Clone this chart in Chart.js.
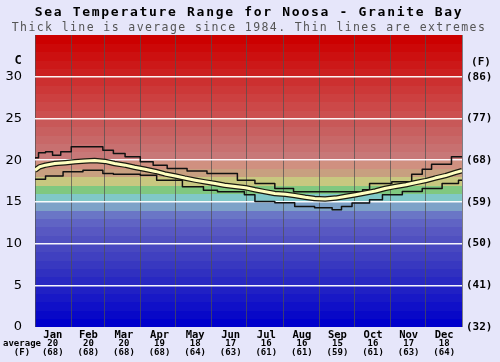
<!DOCTYPE html>
<html>
<head>
<meta charset="utf-8">
<script src="https://cdn.jsdelivr.net/npm/chart.js@4.4.0/dist/chart.umd.min.js"></script>
<style>
  html, body { margin: 0; padding: 0; background: #e6e6fa; }
  #wrap { width: 500px; height: 362px; position: relative; }
</style>
</head>
<body>
<div id="wrap"><canvas id="seachart"></canvas></div>
<script>
const months = ['Jan', 'Feb', 'Mar', 'Apr', 'May', 'Jun', 'Jul', 'Aug', 'Sep', 'Oct', 'Nov', 'Dec'];
const monthAvgC = [20, 20, 20, 19, 18, 17, 16, 16, 15, 16, 17, 18];
const monthAvgF = [68, 68, 68, 68, 64, 63, 61, 61, 59, 61, 63, 64];
const monthStartDays = [0, 31, 59, 90, 120, 151, 181, 212, 243, 273, 304, 334, 365];
const celsiusTicks = [0, 5, 10, 15, 20, 25, 30];

// thick line: average since 1984 (day of year -> C)
const avgDays = [0, 4, 9, 17, 26, 34, 43, 51, 60, 68, 77, 85, 94, 103, 111, 120, 128, 137, 145, 154, 162, 171, 180, 188,
  197, 205, 214, 222, 231, 239, 248, 257, 265, 274, 282, 291, 299, 308, 317, 325, 334, 342, 351, 359, 365];
const avgTemps = [18.8, 19.2, 19.4, 19.6, 19.7, 19.8, 19.9, 19.95, 19.85, 19.6, 19.4, 19.15, 18.9, 18.65, 18.35, 18.1,
  17.85, 17.6, 17.4, 17.2, 17.0, 16.85, 16.7, 16.45, 16.2, 16.0, 15.9, 15.75, 15.55, 15.4, 15.35, 15.45, 15.65, 15.85,
  16.05, 16.3, 16.6, 16.85, 17.05, 17.3, 17.55, 17.85, 18.15, 18.5, 18.75];

// thin lines: extremes (each value holds until the next day listed)
const maxDays = [0, 3, 9, 15, 22, 31, 58, 67, 77, 90, 101, 113, 130, 147, 173, 188, 205, 221, 280, 286, 305, 322, 331, 339, 356, 365];
const maxTemps = [20.3, 20.9, 21.0, 20.6, 21.0, 21.6, 21.2, 20.8, 20.4, 19.8, 19.4, 19.0, 18.7, 18.4, 17.6, 17.2, 16.6,
  16.2, 16.45, 17.2, 17.4, 18.3, 18.9, 19.5, 20.4, 20.4];
const minDays = [0, 9, 24, 41, 58, 67, 90, 104, 126, 144, 156, 179, 188, 205, 222, 239, 254, 262, 271, 286, 297, 314, 331, 348, 362, 365];
const minTemps = [17.7, 18.1, 18.6, 18.8, 18.4, 18.3, 18.2, 17.6, 16.8, 16.4, 16.2, 15.85, 15.05, 14.9, 14.45, 14.3,
  14.05, 14.45, 14.85, 15.25, 15.85, 16.25, 16.6, 17.2, 17.6, 17.6];

// one colour per degree band, 0..35 C
const bandColours = ['#0000cc', '#0808c8', '#1010c8', '#1818c6', '#2020c4', '#2828c2', '#3030c0', '#3838c0', '#4040c0',
  '#4848c0', '#5050c0', '#5858c2', '#6064c4', '#6a76c6', '#7ea2c8', '#80c8c8', '#80c880', '#c8c880', '#c8a080',
  '#d09080', '#c87878', '#c87070', '#c86868', '#c86060', '#c85858', '#cc5050', '#cc4848', '#cc4040', '#cc3838',
  '#cc3030', '#cc2020', '#cc1818', '#cc1010', '#cc0808', '#cc0000'];

const toPoints = (days, temps) => days.map((d, i) => ({ x: d, y: temps[i] }));
const mono = '"DejaVu Sans Mono", monospace';

const bandsPlugin = {
  id: 'bands',
  beforeDraw(chart) {
    const { ctx, chartArea: a, scales: { y } } = chart;
    ctx.save();
    bandColours.forEach((c, d) => {
      const top = Math.floor(y.getPixelForValue(d + 1));
      const bot = Math.ceil(y.getPixelForValue(d));
      ctx.fillStyle = c;
      ctx.fillRect(a.left, top, a.right - a.left, bot - top);
    });
    ctx.restore();
  }
};

const textPlugin = {
  id: 'texts',
  afterDraw(chart) {
    const { ctx, scales: { xm } } = chart;
    ctx.save();
    ctx.textAlign = 'center';
    ctx.textBaseline = 'middle';
    ctx.fillStyle = '#000';
    ctx.font = 'bold 13px ' + mono;
    ctx.letterSpacing = '1.7px';
    ctx.fillText('Sea Temperature Range for Noosa - Granite Bay', 249, 13);
    ctx.fillStyle = '#555';
    ctx.font = '11.5px ' + mono;
    ctx.letterSpacing = '1.4px';
    ctx.fillText('Thick line is average since 1984. Thin lines are extremes', 249, 28);
    ctx.letterSpacing = '0px';

    ctx.fillStyle = '#000';
    ctx.font = 'bold 12px ' + mono;
    ctx.fillText('C', 18, 61);
    ctx.font = 'bold 11px ' + mono;
    ctx.fillText('(F)', 481, 62);

    ctx.font = 'bold 9px ' + mono;
    ctx.fillText('average', 22, 343.5);
    ctx.fillText('(F)', 22, 352.5);
    months.forEach((m, i) => {
      const x = xm.getPixelForValue(i);
      ctx.fillText(String(monthAvgC[i]), x, 343.5);
      ctx.fillText('(' + monthAvgF[i] + ')', x, 352.5);
    });
    ctx.restore();
  }
};

const seaChart = new Chart(document.getElementById('seachart').getContext('2d'), {
  type: 'line',
  data: {
    labels: months,
    datasets: [
      { data: toPoints(avgDays, avgTemps), borderColor: '#ffffc0', borderWidth: 3, xAxisID: 'x', yAxisID: 'y' },
      { data: toPoints(avgDays, avgTemps), borderColor: '#1a1a10', borderWidth: 5.5, xAxisID: 'x', yAxisID: 'y' },
      { data: toPoints(maxDays, maxTemps), borderColor: '#111', borderWidth: 1.5, stepped: true, xAxisID: 'x', yAxisID: 'y' },
      { data: toPoints(minDays, minTemps), borderColor: '#111', borderWidth: 1.5, stepped: true, xAxisID: 'x', yAxisID: 'y' }
    ]
  },
  options: {
    responsive: true,
    maintainAspectRatio: false,
    animation: false,
    elements: { point: { radius: 0 }, line: { tension: 0, borderJoinStyle: 'round' } },
    layout: { padding: { top: 35, left: 0, right: 0, bottom: 0 } },
    plugins: { legend: { display: false }, tooltip: { enabled: false }, title: { display: false } },
    scales: {
      x: {
        type: 'linear', min: 0, max: 365, position: 'bottom',
        afterBuildTicks: s => { s.ticks = monthStartDays.map(v => ({ value: v })); },
        afterFit: s => { s.height = 0; },
        ticks: { display: false },
        grid: { color: 'rgba(80,80,80,0.7)', lineWidth: 1, drawTicks: false },
        border: { display: false }
      },
      xm: {
        type: 'category', labels: months, offset: true, position: 'bottom',
        afterFit: s => { s.height = 35; },
        grid: { display: false, drawTicks: false },
        border: { display: false },
        ticks: { color: '#000', font: { family: mono, size: 10.5, weight: 'bold' }, padding: 2, maxRotation: 0, autoSkip: false }
      },
      y: {
        type: 'linear', min: 0, max: 35, position: 'left',
        afterBuildTicks: s => { s.ticks = celsiusTicks.map(v => ({ value: v })); },
        afterFit: s => { s.width = 35; },
        ticks: { color: '#000', font: { family: '"DejaVu Sans", sans-serif', size: 13 }, padding: 13 },
        grid: { color: c => (c.tick && c.tick.value === 0 ? 'rgba(0,0,0,0)' : 'rgba(255,255,255,0.95)'), lineWidth: 1.5, drawTicks: false },
        border: { display: false }
      },
      y2: {
        type: 'linear', min: 0, max: 35, position: 'right',
        afterBuildTicks: s => { s.ticks = celsiusTicks.map(v => ({ value: v })); },
        afterFit: s => { s.width = 38; },
        ticks: { color: '#000', font: { family: mono, size: 11, weight: 'bold' }, padding: 4,
          callback: v => '(' + Math.round(v * 9 / 5 + 32) + ')' },
        grid: { display: false, drawTicks: false },
        border: { display: false }
      }
    }
  },
  plugins: [bandsPlugin, textPlugin]
});
</script>
</body>
</html>
